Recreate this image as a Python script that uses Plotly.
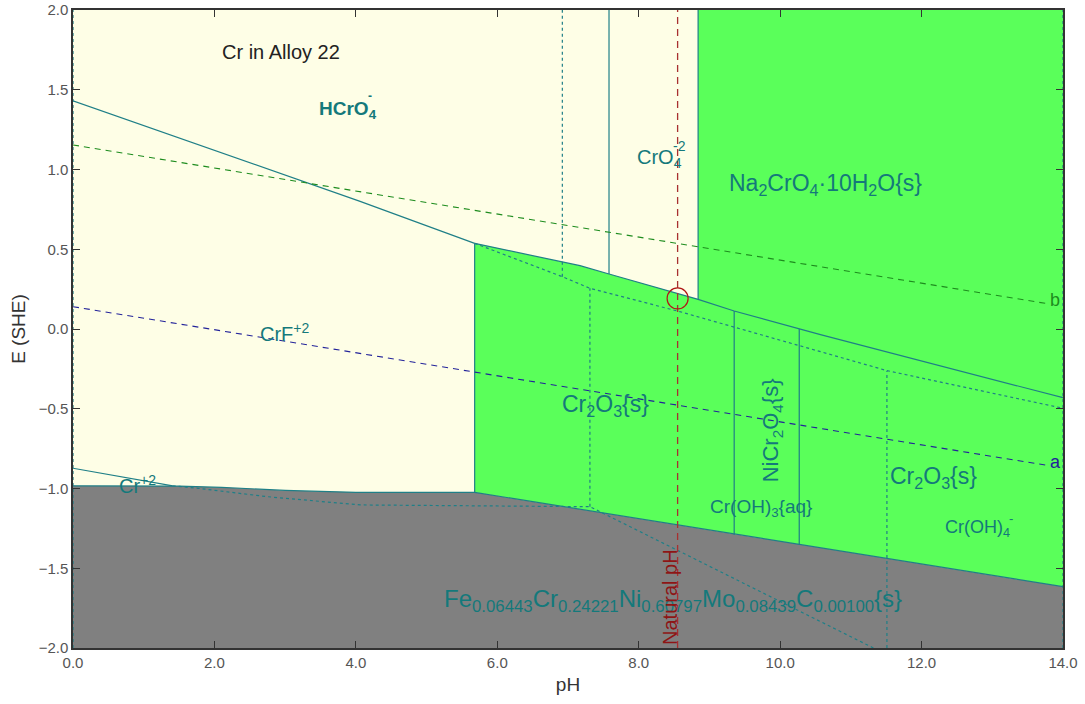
import plotly.graph_objects as go

# ---- Pourbaix diagram data: Cr in Alloy 22 (E vs SHE, V) ----
# Water stability lines
ph_water = [0.0, 13.75]
e_line_b = [1.154, 0.161]
e_line_a = [0.140, -0.853]

# Alloy (metal) stability top boundary
ph_alloy_top = [0.0, 1.5, 2.1, 3.0, 4.0, 5.68, 14.0]
e_alloy_top = [-0.983, -0.985, -0.993, -1.012, -1.024, -1.024, -1.615]

# Upper HCrO4- / Cr+3 species boundary
ph_upper = [0.0, 4.06, 5.68]
e_upper = [1.431, 0.80, 0.537]

# Top of the solid Cr2O3 / NiCr2O4 field
ph_solid_top = [5.68, 7.17, 7.58, 8.84, 9.35, 10.27, 10.57, 14.0]
e_solid_top = [0.537, 0.397, 0.345, 0.186, 0.113, 0.0, -0.035, -0.431]

# Secondary (dotted) boundary inside the solid field
ph_dot_upper = [5.68, 6.92, 7.31, 8.58, 10.57, 11.51, 14.0]
e_dot_upper = [0.537, 0.328, 0.255, 0.109, -0.142, -0.261, -0.497]

# Dotted boundary running through the alloy field
ph_dot_lower = [1.41, 1.79, 2.74, 4.06, 7.31, 11.32]
e_dot_lower = [-0.983, -1.0, -1.051, -1.103, -1.114, -2.0]

# Cr+2 boundary
ph_cr2 = [0.0, 1.41]
e_cr2 = [-0.873, -0.983]

# Vertical boundaries: (pH, E bottom, E top)
solid_verticals = [
    (5.68, -1.024, 0.537),
    (7.58, 0.345, 2.0),
    (8.84, 0.186, 2.0),
    (9.35, -1.29, 0.113),
    (10.27, -1.355, 0.0),
]
dotted_verticals = [
    (6.92, 0.328, 2.0),
    (7.31, -1.114, 0.255),
    (11.51, -2.0, -0.261),
    (0.0, -2.0, 2.0),
    (14.0, -2.0, 2.0),
]

# Natural pH marker
natural_ph = 8.55
natural_e = 0.192

x_ticks = [0, 2, 4, 6, 8, 10, 12, 14]
x_tick_text = ["0.0", "2.0", "4.0", "6.0", "8.0", "10.0", "12.0", "14.0"]
y_ticks = [-2.0, -1.5, -1.0, -0.5, 0.0, 0.5, 1.0, 1.5, 2.0]

TEAL = "#1F7F87"
LABEL = "#14797B"
GREEN_FILL = "#5AFF5A"
GRAY_FILL = "#808080"
YELLOW_BG = "#FEFEE6"
FONT = "Liberation Sans, Arial, sans-serif"

fig = go.Figure()

# Gray alloy field
fig.add_trace(go.Scatter(
    x=ph_alloy_top + [14.0, 0.0],
    y=e_alloy_top + [-2.0, -2.0],
    fill="toself", fillcolor=GRAY_FILL, mode="lines",
    line=dict(width=0), hoverinfo="skip"))

# Green solid field (Cr2O3 / NiCr2O4 / Na2CrO4.10H2O)
green_x = ph_solid_top[:4] + [8.84, 14.0, 14.0, 5.68, 5.68]
green_y = e_solid_top[:4] + [2.0, 2.0, e_alloy_top[-1], e_alloy_top[5], e_solid_top[0]]
fig.add_trace(go.Scatter(
    x=green_x, y=green_y, fill="toself", fillcolor=GREEN_FILL,
    mode="lines", line=dict(width=0), hoverinfo="skip"))


def add_line(x, y, color, dash="solid", width=1.2):
    fig.add_trace(go.Scatter(x=x, y=y, mode="lines",
                             line=dict(color=color, width=width, dash=dash),
                             hoverinfo="skip", cliponaxis=False))


# Boundaries
add_line(ph_alloy_top, e_alloy_top, TEAL)
add_line(ph_upper, e_upper, TEAL)
add_line(ph_solid_top, e_solid_top, TEAL)
add_line(ph_cr2, e_cr2, TEAL)
add_line(ph_dot_upper, e_dot_upper, TEAL, dash="dot")
add_line(ph_dot_lower, e_dot_lower, TEAL, dash="dot")
for px, lo, hi in solid_verticals:
    add_line([px, px], [lo, hi], TEAL)
for px, lo, hi in dotted_verticals:
    add_line([px, px], [lo, hi], TEAL, dash="dot")

# Water lines a and b
add_line(ph_water, e_line_b, "#1E8C1E", dash="6px,5px", width=1.1)
add_line(ph_water, e_line_a, "#23239A", dash="6px,5px", width=1.1)

# Natural pH line and circle
add_line([natural_ph, natural_ph], [-2.0, 2.0], "#A83030", dash="7px,5px", width=1.3)
fig.add_trace(go.Scatter(
    x=[natural_ph], y=[natural_e], mode="markers",
    marker=dict(symbol="circle-open", size=21, color="#B01818",
                line=dict(width=1.2, color="#B01818")),
    hoverinfo="skip"))


def label(text, x, y, size=18, color=LABEL, xanchor="left", angle=0):
    fig.add_annotation(x=x, y=y, text=text, showarrow=False,
                       xref="x", yref="y", xanchor=xanchor, yanchor="middle",
                       textangle=angle,
                       font=dict(family=FONT, size=size, color=color))


label("Cr in Alloy 22", 2.94, 1.737, size=20, color="#222222", xanchor="center")
# HCrO4- with the charge stacked over the subscript
label("<b>HCrO<sub>4</sub></b>", 3.449, 1.375, size=19)
label("<b>-</b>", 4.20, 1.462, size=12, xanchor="center")
# CrO4-2 with stacked charge
label("CrO<sub>4</sub>", 7.948, 1.072, size=20)
label("-2", 8.58, 1.145, size=14, xanchor="center")
label("Na<sub>2</sub>CrO<sub>4</sub>·10H<sub>2</sub>O{s}", 9.25, 0.905, size=23)
label("CrF<sup>+2</sup>", 2.61, -0.02, size=20)
label("Cr<sub>2</sub>O<sub>3</sub>{s}", 6.89, -0.48, size=23)
label("NiCr<sub>2</sub>O<sub>4</sub>{s}", 9.89, -0.633, size=22, xanchor="center", angle=-90)
label("Cr(OH)<sub>3</sub>{aq}", 8.98, -1.125, size=19)
label("Cr<sub>2</sub>O<sub>3</sub>{s}", 11.53, -0.93, size=23)
# Cr(OH)4- with stacked charge
label("Cr(OH)<sub>4</sub>", 12.302, -1.25, size=18)
label("-", 13.26, -1.185, size=13, xanchor="center")
label("Cr<sup>+2</sup>", 0.62, -0.975, size=20)
label("Fe<sub>0.06443</sub>Cr<sub>0.24221</sub>Ni<sub>0.60797</sub>"
      "Mo<sub>0.08439</sub>C<sub>0.00100</sub>{s}", 5.22, -1.70, size=24)
label("Natural pH", 8.45, -1.683, size=20, color="#8E1515", xanchor="center", angle=-90)
label("b", 13.89, 0.182, size=18, color="#1E8C1E", xanchor="center")
label("a", 13.89, -0.834, size=18, color="#23239A", xanchor="center")

axis_common = dict(
    showgrid=False, zeroline=False, showline=True, linecolor="#333333",
    linewidth=1.5, mirror="ticks", ticks="inside", ticklen=7,
    tickcolor="#333333", tickfont=dict(family=FONT, size=15, color="#555555"),
    automargin=False,
)

fig.update_layout(
    width=1085, height=704,
    margin=dict(l=73, r=22, t=10, b=56),
    paper_bgcolor="white", plot_bgcolor=YELLOW_BG,
    showlegend=False,
    xaxis=dict(range=[0, 14], tickvals=x_ticks, ticktext=x_tick_text,
               title=dict(text="pH", font=dict(family=FONT, size=19, color="#333333"),
                          standoff=8),
               **axis_common),
    yaxis=dict(range=[-2, 2], tickvals=y_ticks, tickformat=".1f",
               title=dict(text="E (SHE)", font=dict(family=FONT, size=19, color="#333333"),
                          standoff=8),
               **axis_common),
)

fig.write_html("out.html")
